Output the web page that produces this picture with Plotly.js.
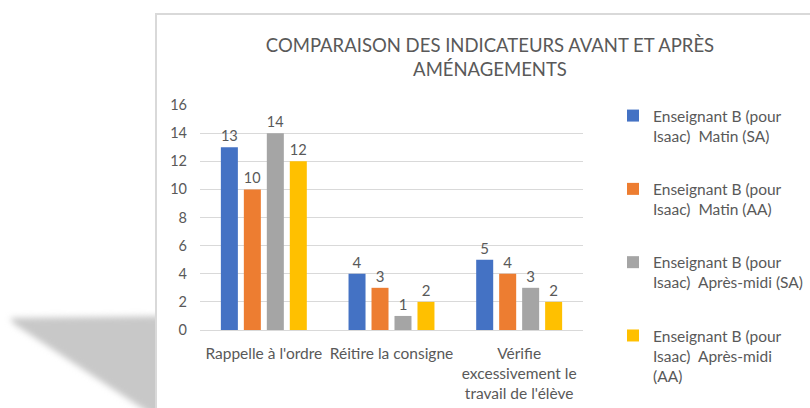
<!DOCTYPE html>
<html>
<head>
<meta charset="utf-8">
<script src="https://cdn.plot.ly/plotly-3.0.1.min.js"></script>
<style>
  html, body { margin: 0; padding: 0; background: #ffffff; width: 810px; height: 408px; overflow: hidden; }
  #shadowWrap { position: absolute; left: 0; top: 0; width: 810px; height: 408px; filter: blur(3px); }
  #shadow { position: absolute; left: 0; top: 0; width: 810px; height: 420px; background: #c8c8c8;
    clip-path: polygon(10px 318px, 170px 316px, 170px 420px, 160px 420px, 14px 324px); }
  #box { position: absolute; left: 155px; top: 13px; width: 700px; height: 420px; background: #ffffff;
    border-left: 2px solid #d9d9d9; border-top: 2px solid #d9d9d9; }
  #chart { position: absolute; left: 0; top: 0; width: 810px; height: 408px; }
</style>
</head>
<body>
<div id="shadowWrap"><div id="shadow"></div></div>
<div id="box"></div>
<div id="chart"></div>
<script>
const categories = ["Rappelle à l'ordre", "Réitire la consigne", "Vérifie<br>excessivement le<br>travail de l'élève"];
const seriesNames = [
  "Enseignant B (pour<br>Isaac)  Matin (SA)",
  "Enseignant B (pour<br>Isaac)  Matin (AA)",
  "Enseignant B (pour<br>Isaac)  Après-midi (SA)",
  "Enseignant B (pour<br>Isaac)  Après-midi<br>(AA)"
];
const matinSA = [13, 4, 5];
const matinAA = [10, 3, 4];
const apremSA = [14, 1, 3];
const apremAA = [12, 2, 2];
const yTicks = [0, 2, 4, 6, 8, 10, 12, 14, 16];

const colors = ["#4472C4", "#ED7D31", "#A5A5A5", "#FFC000"];
const allSeries = [matinSA, matinAA, apremSA, apremAA];
const FONT = "Lato, 'Open Sans', sans-serif";
const GREY = "#595959";

const traces = allSeries.map((vals, i) => ({
  type: "bar",
  name: seriesNames[i],
  x: categories,
  y: vals,
  marker: { color: colors[i] },
  text: vals.map(String),
  textposition: "outside",
  textfont: { family: FONT, size: 15, color: GREY },
  cliponaxis: false,
  legendgroup: "g" + i,
  hoverinfo: "none"
}));

const layout = {
  width: 810, height: 408,
  margin: { l: 200, r: 227, t: 105, b: 78, autoexpand: false },
  paper_bgcolor: "rgba(0,0,0,0)",
  plot_bgcolor: "rgba(0,0,0,0)",
  barmode: "group",
  bargap: 0.28,
  bargroupgap: 0.26,
  font: { family: FONT, color: GREY },
  title: {
    text: "COMPARAISON DES INDICATEURS AVANT ET APRÈS<br>AMÉNAGEMENTS",
    font: { family: FONT, size: 18.5, color: GREY },
    xref: "paper", x: (490 - 200) / 383, xanchor: "center",
    yref: "container", y: 1 - 52 / 408, yanchor: "middle"
  },
  xaxis: {
    type: "category",
    automargin: false, tickangle: 0,
    showgrid: false, showline: false, zeroline: false,
    ticks: "", ticklabelstandoff: 12,
    tickfont: { family: FONT, size: 15.5, color: GREY }
  },
  yaxis: {
    range: [0, 16],
    automargin: false,
    tickvals: yTicks,
    ticktext: yTicks.map(String),
    showgrid: true, gridcolor: "#d9d9d9", gridwidth: 1,
    zeroline: true, zerolinecolor: "#d9d9d9", zerolinewidth: 1,
    showline: false, ticks: "", ticklabelstandoff: 12,
    tickfont: { family: FONT, size: 14.5, color: GREY }
  },
  showlegend: true,
  legend: {
    x: (613 - 200) / 383, xanchor: "left",
    y: (330 - 99) / 225, yanchor: "top",
    font: { family: FONT, size: 15.5, color: GREY },
    valign: "top",
    tracegroupgap: 30,
    itemwidth: 30,
    maxheight: 400,
    bgcolor: "rgba(0,0,0,0)"
  }
};

Plotly.newPlot("chart", traces, layout, { displayModeBar: false, staticPlot: true });
</script>
</body>
</html>
